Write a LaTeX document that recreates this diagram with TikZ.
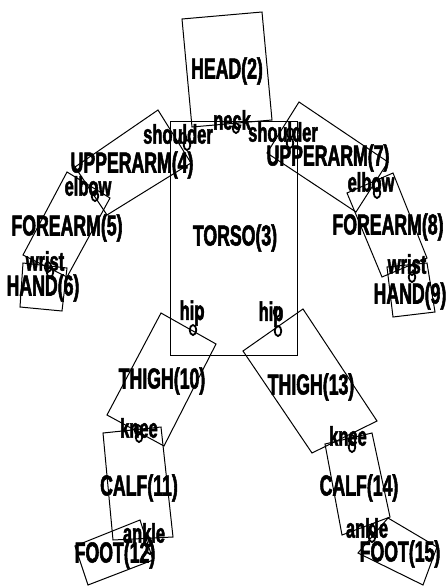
\documentclass[tikz,border=0pt]{standalone}
\usepackage{fontspec}
\newfontfamily\skelfont{Liberation Sans}[FakeStretch=0.61, FakeBold=1.8]
\tikzset{
  part/.style={draw=black, line width=1pt, line join=miter},
  partlabel/.style={inner sep=0pt, font=\skelfont\bfseries\fontsize{29}{29}\selectfont},
  jointlabel/.style={inner sep=0pt, font=\skelfont\bfseries\fontsize{27}{27}\selectfont},
  jointmark/.style={draw=black, line width=1.8pt},
}
\begin{document}
\begin{tikzpicture}[x=1pt,y=-1pt]
  \useasboundingbox (0,0) rectangle (445,587);

  % Head and torso
  \draw[part] (182,19) -- (262,12) -- (272,120) -- (192,127) -- cycle;
  \draw[part] (170,121) rectangle (297,355);

  % Left arm
  \draw[part] (158,110) -- (191,163) -- (107,215) -- (75,167) -- cycle;
  \draw[part] (67,172) -- (110,198) -- (67,277) -- (23,255) -- cycle;
  \draw[part] (23,263) -- (67,268) -- (62,311) -- (20,307) -- cycle;

  % Right arm
  \draw[part] (299,102) -- (388,162) -- (356,212) -- (267,153) -- cycle;
  \draw[part] (347,193) -- (393,173) -- (427,258) -- (382,277) -- cycle;
  \draw[part] (387,267) -- (427,263) -- (435,312) -- (393,317) -- cycle;

  % Left leg
  \draw[part] (161,313) -- (216,344) -- (164,446) -- (107,415) -- cycle;
  \draw[part] (103,433) -- (161,427) -- (173,537) -- (113,540) -- cycle;
  \draw[part] (140,520) -- (153,560) -- (88,585) -- (75,546) -- cycle;

  % Right leg
  \draw[part] (303,309) -- (377,421) -- (312,453) -- (243,351) -- cycle;
  \draw[part] (325,444) -- (372,433) -- (390,517) -- (342,535) -- cycle;
  \draw[part] (388,518) -- (437,547) -- (423,585) -- (358,553) -- cycle;

  % Joint markers (one from each side of the joint)
  \foreach \jx/\jy in {236/128, 183/138, 187/145, 290/133, 290/143,
      93/188, 95/196, 376/185, 377/193, 48/267, 50/272, 412/270, 412/277,
      200/312, 193/330, 277/312, 278/331, 138/430, 139/437, 352/440, 352/447,
      148/542, 150/549, 372/530, 372/537}
    \draw[jointmark] (\jx,\jy) ellipse [x radius=3.3, y radius=5];

  % Part labels
  \node[partlabel] (head) at (227,71) {HEAD(2)};
  \node[partlabel] (torso) at (235,238) {TORSO(3)};
  \node[partlabel] (upperarmL) at (132,165) {UPPERARM(4)};
  \node[partlabel] (forearmL) at (67,228) {FOREARM(5)};
  \node[partlabel] (handL) at (43,288) {HAND(6)};
  \node[partlabel] (upperarmR) at (328,158) {UPPERARM(7)};
  \node[partlabel] (forearmR) at (388,227) {FOREARM(8)};
  \node[partlabel] (handR) at (410,296) {HAND(9)};
  \node[partlabel] (thighL) at (162,381) {THIGH(10)};
  \node[partlabel] (calfL) at (139,488) {CALF(11)};
  \node[partlabel] (footL) at (115,555) {FOOT(12)};
  \node[partlabel] (thighR) at (311,387) {THIGH(13)};
  \node[partlabel] (calfR) at (359,488) {CALF(14)};
  \node[partlabel] (footR) at (400,554) {FOOT(15)};

  % Joint labels
  \node[jointlabel] (neck) at (232,120) {neck};
  \node[jointlabel] (shoulderL) at (178,134) {shoulder};
  \node[jointlabel] (shoulderR) at (283,132) {shoulder};
  \node[jointlabel] (elbowL) at (88,186) {elbow};
  \node[jointlabel] (elbowR) at (371,182) {elbow};
  \node[jointlabel] (wristL) at (45,261) {wrist};
  \node[jointlabel] (wristR) at (407,264) {wrist};
  \node[jointlabel] (hipL) at (192,313) {hip};
  \node[jointlabel] (hipR) at (271,314) {hip};
  \node[jointlabel] (kneeL) at (139,428) {knee};
  \node[jointlabel] (kneeR) at (348,436) {knee};
  \node[jointlabel] (ankleL) at (144,533) {ankle};
  \node[jointlabel] (ankleR) at (367,528) {ankle};
\end{tikzpicture}
\end{document}
